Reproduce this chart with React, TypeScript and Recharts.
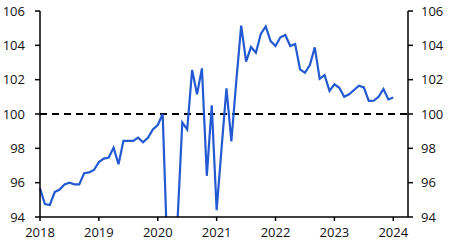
import { LineChart, Line, XAxis, YAxis, ReferenceLine } from 'recharts';

// monthly index, Feb 2020 = 100
const years = [2018, 2019, 2020, 2021, 2022, 2023, 2024];
const values2018 = [95.67, 94.75, 94.7, 95.45, 95.6, 95.9, 96.0, 95.9, 95.9, 96.55, 96.6, 96.74];
const values2019 = [97.2, 97.4, 97.46, 98.04, 97.07, 98.43, 98.43, 98.43, 98.62, 98.35, 98.62, 99.1];
const values2020 = [99.36, 100, 91.5, 80, 93.6, 99.5, 99.1, 102.56, 101.15, 102.66, 96.4, 100.5];
const values2021 = [94.4, 98.0, 101.5, 98.4, 101.9, 105.15, 103.05, 103.9, 103.57, 104.66, 105.1, 104.25];
const values2022 = [103.96, 104.47, 104.6, 103.96, 104.08, 102.6, 102.4, 102.85, 103.88, 102.05, 102.27, 101.35];
const values2023 = [101.73, 101.53, 101.0, 101.15, 101.4, 101.65, 101.55, 100.76, 100.77, 101.0, 101.46, 100.85];
const values2024 = [100.96];

const yTicks = [94, 96, 98, 100, 102, 104, 106];

const series = [values2018, values2019, values2020, values2021, values2022, values2023, values2024];
const data = series.flatMap((vals, y) =>
  vals.map((v, m) => ({ t: years[y] + m / 12, value: v }))
);

const tickStyle = { fontFamily: '"Open Sans", sans-serif', fontSize: 13, fill: '#111' };
const axisLine = { stroke: '#000', strokeWidth: 1.5 };

export default function App() {
  return (
    <div style={{ width: 450, height: 248 }}>
      <style>{`body { margin: 0; }`}</style>
      <LineChart
        width={450}
        height={248}
        data={data}
        margin={{ top: 11, right: 0, bottom: 0, left: 0 }}
      >
        <XAxis
          dataKey="t"
          type="number"
          domain={[2018, 2024.25]}
          ticks={years}
          height={31}
          tick={tickStyle}
          tickSize={4}
          tickMargin={7}
          axisLine={axisLine}
          tickLine={axisLine}
        />
        <YAxis
          yAxisId="left"
          orientation="left"
          width={40}
          domain={[94, 106]}
          ticks={yTicks}
          allowDataOverflow
          tick={tickStyle}
          tickSize={5}
          tickMargin={10}
          axisLine={axisLine}
          tickLine={axisLine}
        />
        <YAxis
          yAxisId="right"
          orientation="right"
          width={42}
          domain={[94, 106]}
          ticks={yTicks}
          allowDataOverflow
          tick={{ ...tickStyle, textAnchor: 'start' }}
          tickSize={5}
          tickMargin={8}
          axisLine={axisLine}
          tickLine={axisLine}
        />
        <ReferenceLine
          yAxisId="left"
          y={100}
          stroke="#000"
          strokeWidth={2}
          strokeDasharray="7 5"
        />
        <Line
          yAxisId="left"
          type="linear"
          dataKey="value"
          stroke="#235AD2"
          strokeWidth={2.2}
          dot={false}
          isAnimationActive={false}
        />
      </LineChart>
    </div>
  );
}
